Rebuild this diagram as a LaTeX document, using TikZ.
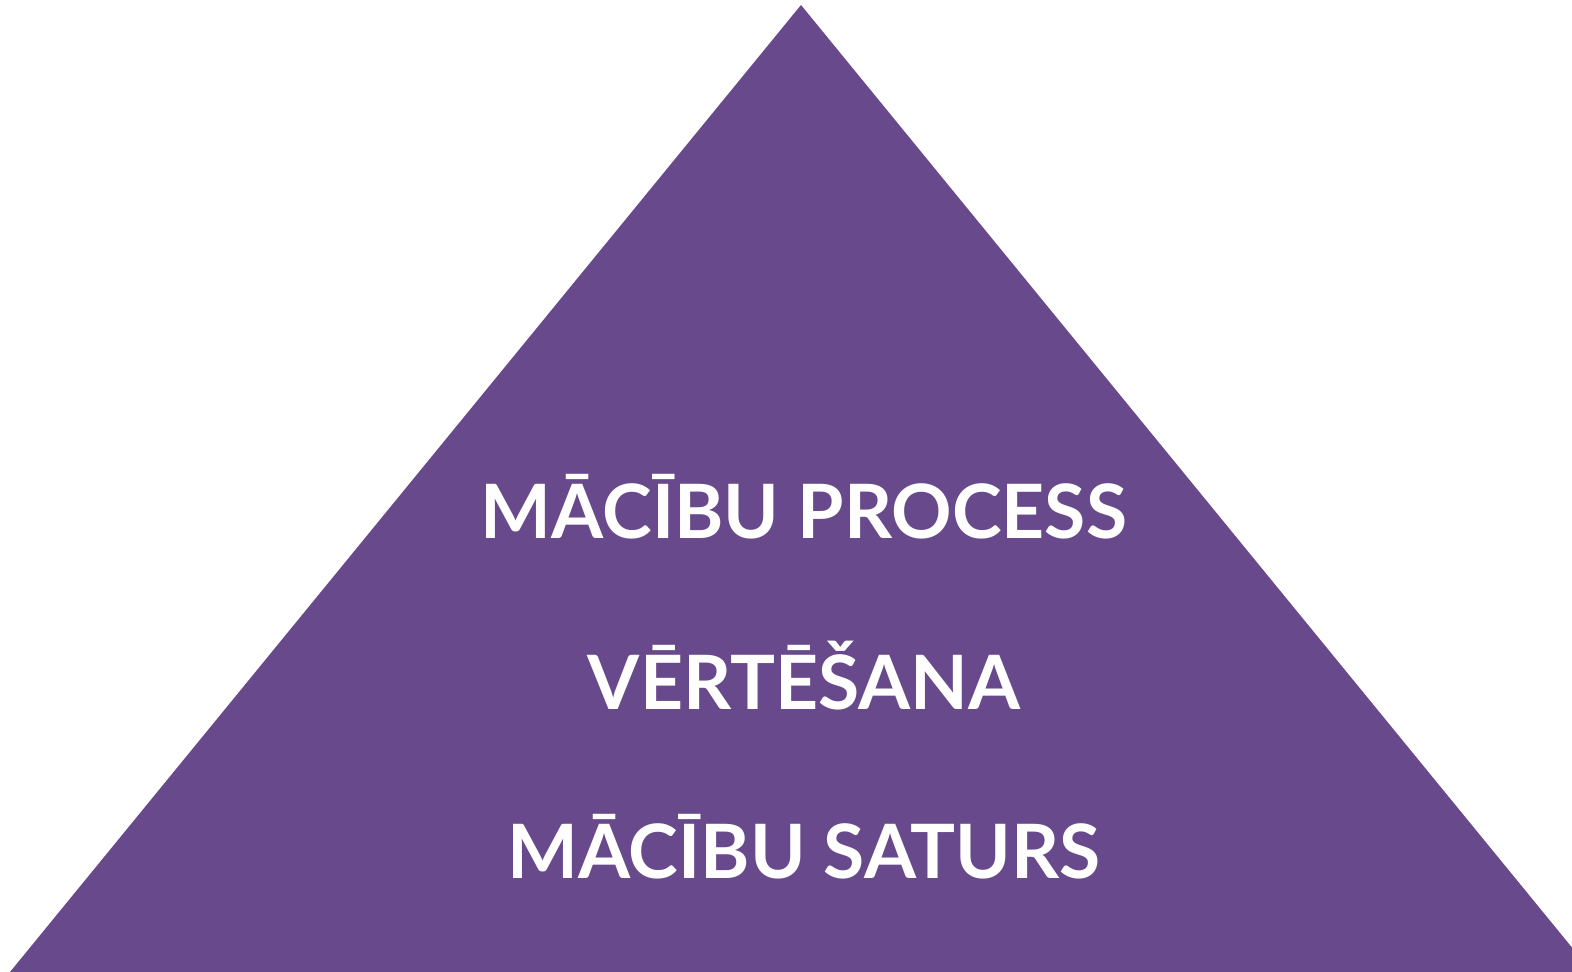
\documentclass[tikz,border=0pt]{standalone}
\usepackage{fontspec}
\setmainfont{Lato}
\definecolor{pyr}{HTML}{684A8C}
\begin{document}
\begin{tikzpicture}[x=1pt,y=-1pt,
  lbl/.style={text=white,inner sep=0pt,anchor=base,font=\bfseries\fontsize{75}{80}\selectfont}]
\useasboundingbox (0,0) rectangle (1572,972);
\clip (0,0) rectangle (1572,972);
\fill[pyr] (801,5) coordinate (apex) -- (1592,972) coordinate (br) -- (10,972) coordinate (bl) -- cycle;
\node[lbl] (t1) at (804,538) {MĀCĪBU PROCESS};
\node[lbl] (t2) at (804,709) {VĒRTĒŠANA};
\node[lbl] (t3) at (804,878) {MĀCĪBU SATURS};
\end{tikzpicture}
\end{document}
